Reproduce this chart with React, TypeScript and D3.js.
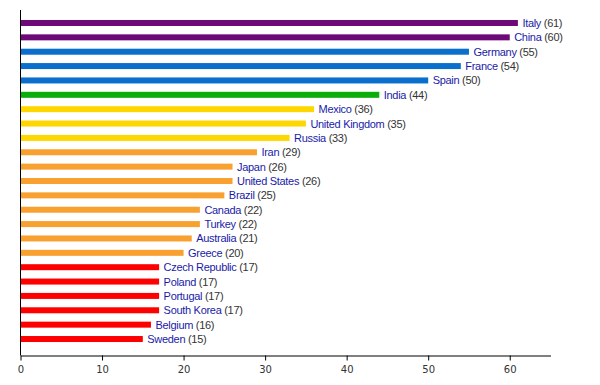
import React, { useEffect, useRef } from 'react';
import * as d3 from 'd3';

const countries = [
  'Italy', 'China', 'Germany', 'France', 'Spain', 'India', 'Mexico', 'United Kingdom',
  'Russia', 'Iran', 'Japan', 'United States', 'Brazil', 'Canada', 'Turkey', 'Australia',
  'Greece', 'Czech Republic', 'Poland', 'Portugal', 'South Korea', 'Belgium', 'Sweden',
];
const sites = [61, 60, 55, 54, 50, 44, 36, 35, 33, 29, 26, 26, 25, 22, 22, 21, 20, 17, 17, 17, 17, 16, 15];
// colour group per bar
const groups = [0, 0, 1, 1, 1, 2, 3, 3, 3, 4, 4, 4, 4, 4, 4, 4, 4, 5, 5, 5, 5, 5, 5];
const groupColors = ['#6e0a78', '#0a6ecc', '#0aad0a', '#ffd700', '#f8a030', '#ff0000'];
const xTicks = [0, 10, 20, 30, 40, 50, 60];

export default function App() {
  const svgRef = useRef<SVGSVGElement>(null);

  useEffect(() => {
    if (!svgRef.current) return;
    const svg = d3.select(svgRef.current);
    svg.selectAll('*').remove();

    const left = 20.5;
    const x = d3.scaleLinear().domain([0, 65]).range([left, 550.5]);
    const y = d3.scaleBand<string>()
      .domain(countries)
      .range([15.8, 346.2])
      .paddingInner(0.58)
      .paddingOuter(0.29);
    const barH = 6;

    const data = countries.map((c, i) => ({ c, v: sites[i], g: groups[i] }));

    svg.append('g')
      .selectAll('rect')
      .data(data)
      .enter()
      .append('rect')
      .attr('x', x(0))
      .attr('y', d => (y(d.c) || 0) + y.bandwidth() / 2 - barH / 2)
      .attr('width', d => x(d.v) - x(0))
      .attr('height', barH)
      .attr('fill', d => groupColors[d.g]);

    const labels = svg.append('g')
      .selectAll('text')
      .data(data)
      .enter()
      .append('text')
      .attr('x', d => x(d.v) + 4.5)
      .attr('y', d => (y(d.c) || 0) + y.bandwidth() / 2 + 4)
      .style('font-family', 'Liberation Sans, Arial, sans-serif')
      .style('font-size', '11px')
      .style('letter-spacing', '-0.3px');
    labels.append('tspan').attr('fill', '#1a1aa8').text(d => d.c);
    labels.append('tspan').attr('fill', '#333').text(d => ` (${d.v})`);

    // y axis line
    svg.append('line')
      .attr('x1', left).attr('x2', left)
      .attr('y1', 10).attr('y2', 355.5)
      .attr('stroke', '#000');

    const axis = svg.append('g')
      .attr('transform', 'translate(0,355.5)')
      .call(d3.axisBottom(x).tickValues(xTicks).tickSize(5).tickSizeOuter(0));
    axis.select('.domain').attr('stroke', '#000');
    axis.selectAll('.tick line').attr('stroke', '#000');
    axis.selectAll('.tick text')
      .attr('fill', '#333')
      .attr('dy', '0.9em')
      .style('font-family', 'DejaVu Sans, Verdana, sans-serif')
      .style('font-size', '10px');
  }, []);

  return (
    <svg ref={svgRef} width={600} height={385}
      style={{ position: 'absolute', left: 0, top: 0, background: '#fff' }} />
  );
}
